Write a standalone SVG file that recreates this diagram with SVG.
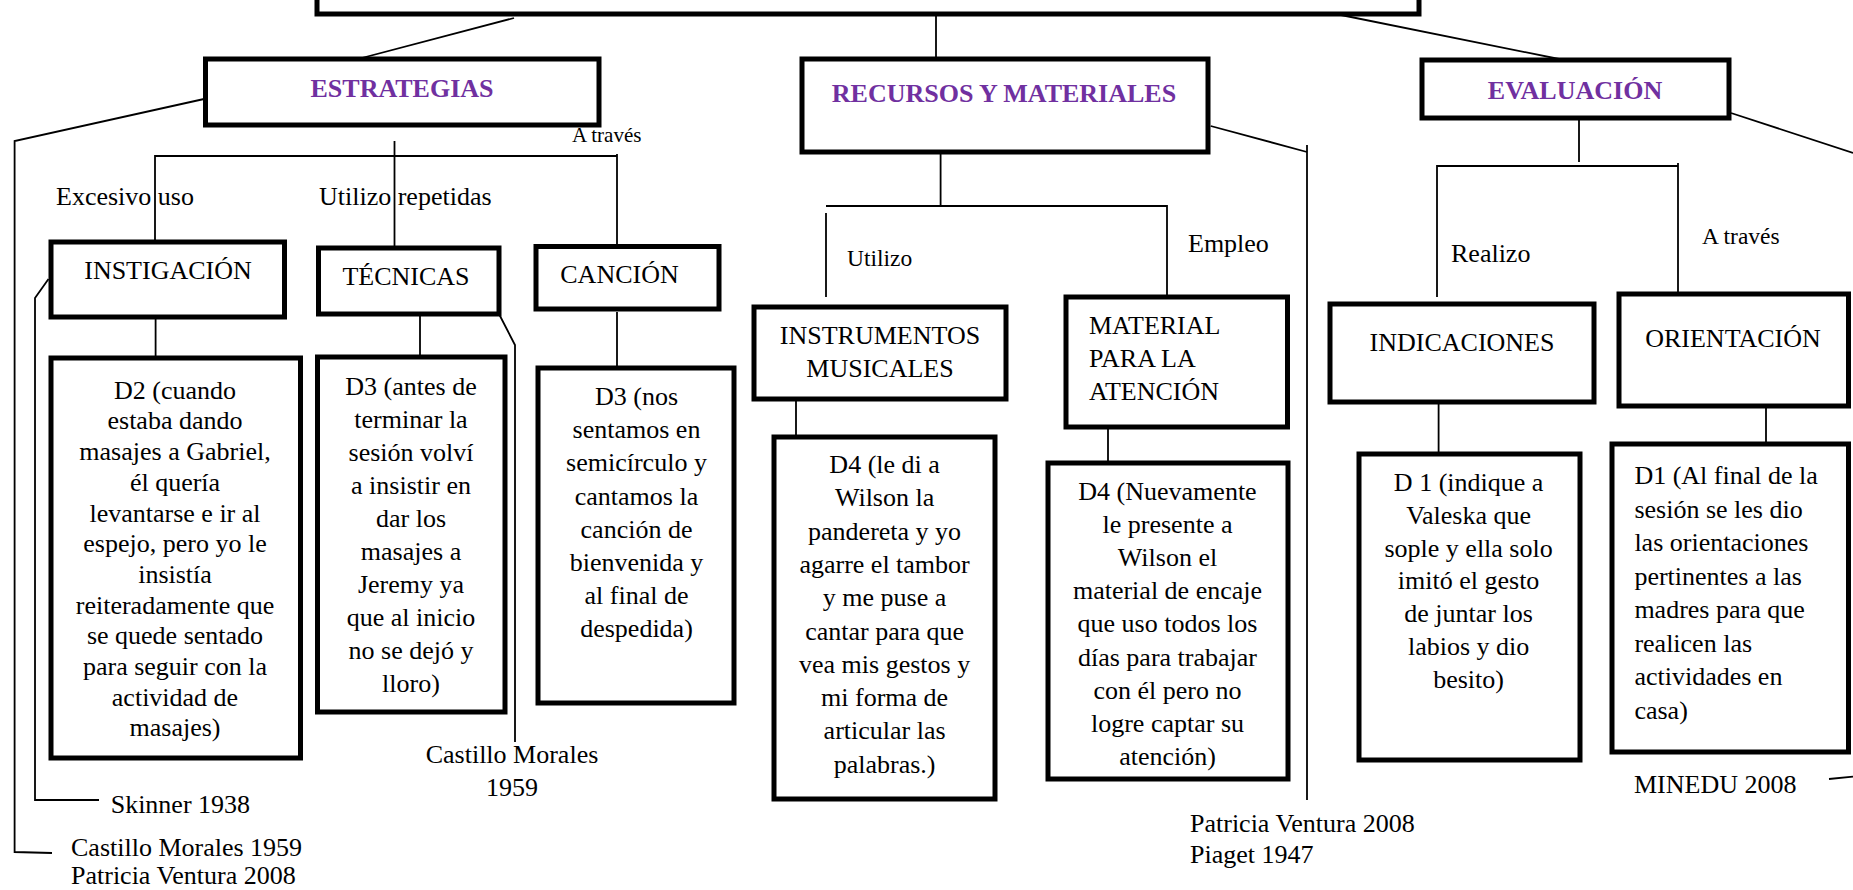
<svg xmlns="http://www.w3.org/2000/svg" width="1853" height="890" viewBox="0 0 1853 890">
<style>
.box{fill:#fff;stroke:#000;stroke-width:5}
.ln{fill:none;stroke:#000;stroke-width:1.8}
text{font-family:"Liberation Serif","Times New Roman",serif;font-size:26px;fill:#000}
.t{font-weight:bold;fill:#7030a0}
.c{text-anchor:middle}
.s{font-size:21px}
.m{font-size:23.5px}
</style>
<rect width="1853" height="890" fill="#fff"/>
<g id="connectors">
<polyline class="ln" points="514,18 358,59"/>
<polyline class="ln" points="936,9 936,59"/>
<polyline class="ln" points="1341,15 1564,60"/>
<polyline class="ln" points="204,99 14.6,141 14.6,852 52,853"/>
<polyline class="ln" points="48.5,279 35,298 35,800 99,800"/>
<polyline class="ln" points="394.5,141 394.5,248"/>
<polyline class="ln" points="155,242 155,156 617,156"/>
<polyline class="ln" points="617,154 617,246.5"/>
<polyline class="ln" points="155.6,317 155.6,358"/>
<polyline class="ln" points="420,314 420,357"/>
<polyline class="ln" points="499,314 515,345 515,742"/>
<polyline class="ln" points="617,312 617,368"/>
<polyline class="ln" points="940.6,152 940.6,206"/>
<polyline class="ln" points="826,206 1167,206 1167,297"/>
<polyline class="ln" points="826,213 826,297"/>
<polyline class="ln" points="796,393 796,437"/>
<polyline class="ln" points="1108,427 1108,463"/>
<polyline class="ln" points="1210.7,126 1307,152"/>
<polyline class="ln" points="1307,145 1307,800"/>
<polyline class="ln" points="1579,118 1579,162"/>
<polyline class="ln" points="1437,297 1437,166 1678,166"/>
<polyline class="ln" points="1678,163 1678,294"/>
<polyline class="ln" points="1438.6,397 1438.6,454"/>
<polyline class="ln" points="1766,398 1766,444"/>
<polyline class="ln" points="1731,113 1853,153"/>
<polyline class="ln" points="1829,779 1853,776.7"/>
</g>
<g id="top"><rect class="box" x="317" y="-40" width="1102" height="54"/></g>
<g id="estrategias"><rect class="box" x="205.5" y="59" width="393.5" height="66"/><text class="t c" x="402" y="97">ESTRATEGIAS</text></g>
<g id="recursos"><rect class="box" x="802" y="59" width="406" height="93"/><text class="t c" x="1004" y="102">RECURSOS Y MATERIALES</text></g>
<g id="evaluacion"><rect class="box" x="1422" y="60" width="307" height="58"/><text class="t c" x="1575" y="99">EVALUACIÓN</text></g>
<g id="labels">
<text x="56" y="205">Excesivo uso</text>
<text x="319" y="205">Utilizo repetidas</text>
<text class="s" x="572" y="142">A través</text>
<text class="m" x="847" y="266">Utilizo</text>
<text x="1188" y="252">Empleo</text>
<text x="1451" y="262">Realizo</text>
<text class="m" x="1702" y="244">A través</text>
</g>
<g id="instigacion"><rect class="box" x="51" y="242" width="233.5" height="75"/><text class="c" x="168" y="279">INSTIGACIÓN</text></g>
<g id="tecnicas"><rect class="box" x="318.5" y="248" width="180.5" height="66"/><text class="c" x="406" y="285">TÉCNICAS</text></g>
<g id="cancion"><rect class="box" x="536" y="246.5" width="183" height="62.5"/><text class="c" x="619.5" y="283">CANCIÓN</text></g>
<g id="d2"><rect class="box" x="51" y="358" width="249.5" height="400"/>
<text class="c" x="175" y="398.7">D2 (cuando</text>
<text class="c" x="175" y="429.4">estaba dando</text>
<text class="c" x="175" y="460.1">masajes a Gabriel,</text>
<text class="c" x="175" y="490.8">él quería</text>
<text class="c" x="175" y="521.5">levantarse e ir al</text>
<text class="c" x="175" y="552.2">espejo, pero yo le</text>
<text class="c" x="175" y="582.9">insistía</text>
<text class="c" x="175" y="613.6">reiteradamente que</text>
<text class="c" x="175" y="644.3">se quede sentado</text>
<text class="c" x="175" y="675">para seguir con la</text>
<text class="c" x="175" y="705.7">actividad de</text>
<text class="c" x="175" y="736.4">masajes)</text>
</g>
<g id="d3a"><rect class="box" x="317.5" y="357" width="187.5" height="355"/>
<text class="c" x="411" y="394.6">D3 (antes de</text>
<text class="c" x="411" y="427.6">terminar la</text>
<text class="c" x="411" y="460.6">sesión volví</text>
<text class="c" x="411" y="493.6">a insistir en</text>
<text class="c" x="411" y="526.6">dar los</text>
<text class="c" x="411" y="559.6">masajes a</text>
<text class="c" x="411" y="592.6">Jeremy ya</text>
<text class="c" x="411" y="625.6">que al inicio</text>
<text class="c" x="411" y="658.6">no se dejó y</text>
<text class="c" x="411" y="691.6">lloro)</text>
</g>
<g id="d3b"><rect class="box" x="538" y="368" width="196" height="335"/>
<text class="c" x="636.5" y="405">D3 (nos</text>
<text class="c" x="636.5" y="438.2">sentamos en</text>
<text class="c" x="636.5" y="471.4">semicírculo y</text>
<text class="c" x="636.5" y="504.6">cantamos la</text>
<text class="c" x="636.5" y="537.8">canción de</text>
<text class="c" x="636.5" y="571">bienvenida y</text>
<text class="c" x="636.5" y="604.2">al final de</text>
<text class="c" x="636.5" y="637.4">despedida)</text>
</g>
<g id="instrumentos"><rect class="box" x="754" y="307" width="252" height="92"/>
<text class="c" x="880" y="344">INSTRUMENTOS</text>
<text class="c" x="880" y="377">MUSICALES</text>
</g>
<g id="material"><rect class="box" x="1066" y="297" width="221.5" height="130"/>
<text x="1089" y="334">MATERIAL</text>
<text x="1089" y="367">PARA LA</text>
<text x="1089" y="400">ATENCIÓN</text>
</g>
<g id="d4a"><rect class="box" x="774" y="437" width="221" height="362"/>
<text class="c" x="884.6" y="473">D4 (le di a</text>
<text class="c" x="884.6" y="506.3">Wilson la</text>
<text class="c" x="884.6" y="539.6">pandereta y yo</text>
<text class="c" x="884.6" y="572.9">agarre el tambor</text>
<text class="c" x="884.6" y="606.2">y me puse a</text>
<text class="c" x="884.6" y="639.5">cantar para que</text>
<text class="c" x="884.6" y="672.8">vea mis gestos y</text>
<text class="c" x="884.6" y="706.1">mi forma de</text>
<text class="c" x="884.6" y="739.4">articular las</text>
<text class="c" x="884.6" y="772.7">palabras.)</text>
</g>
<g id="d4b"><rect class="box" x="1048" y="463" width="240" height="316"/>
<text class="c" x="1167.5" y="500">D4 (Nuevamente</text>
<text class="c" x="1167.5" y="533.1">le presente a</text>
<text class="c" x="1167.5" y="566.2">Wilson el</text>
<text class="c" x="1167.5" y="599.3">material de encaje</text>
<text class="c" x="1167.5" y="632.4">que uso todos los</text>
<text class="c" x="1167.5" y="665.5">días para trabajar</text>
<text class="c" x="1167.5" y="698.6">con él pero no</text>
<text class="c" x="1167.5" y="731.7">logre captar su</text>
<text class="c" x="1167.5" y="764.8">atención)</text>
</g>
<g id="indicaciones"><rect class="box" x="1330" y="304" width="264" height="98"/><text class="c" x="1462" y="351">INDICACIONES</text></g>
<g id="orientacion"><rect class="box" x="1619" y="294" width="229.5" height="112"/><text class="c" x="1733" y="347">ORIENTACIÓN</text></g>
<g id="d1a"><rect class="box" x="1359" y="454" width="221" height="306"/>
<text class="c" x="1468.6" y="490.7">D 1 (indique a</text>
<text class="c" x="1468.6" y="523.6">Valeska que</text>
<text class="c" x="1468.6" y="556.5">sople y ella solo</text>
<text class="c" x="1468.6" y="589.4">imitó el gesto</text>
<text class="c" x="1468.6" y="622.3">de juntar los</text>
<text class="c" x="1468.6" y="655.2">labios y dio</text>
<text class="c" x="1468.6" y="688.1">besito)</text>
</g>
<g id="d1b"><rect class="box" x="1612" y="444" width="236.5" height="308"/>
<text x="1634.4" y="484">D1 (Al final de la</text>
<text x="1634.4" y="517.5">sesión se les dio</text>
<text x="1634.4" y="551">las orientaciones</text>
<text x="1634.4" y="584.5">pertinentes a las</text>
<text x="1634.4" y="618">madres para que</text>
<text x="1634.4" y="651.5">realicen las</text>
<text x="1634.4" y="685">actividades en</text>
<text x="1634.4" y="718.5">casa)</text>
</g>
<g id="refs">
<text x="110.7" y="813">Skinner 1938</text>
<text x="71" y="856">Castillo Morales 1959</text>
<text x="71" y="884">Patricia Ventura 2008</text>
<text class="c" x="512" y="763">Castillo Morales</text>
<text class="c" x="512" y="796">1959</text>
<text x="1190" y="832">Patricia Ventura 2008</text>
<text x="1190" y="863">Piaget 1947</text>
<text x="1634" y="793">MINEDU 2008</text>
</g>
</svg>
